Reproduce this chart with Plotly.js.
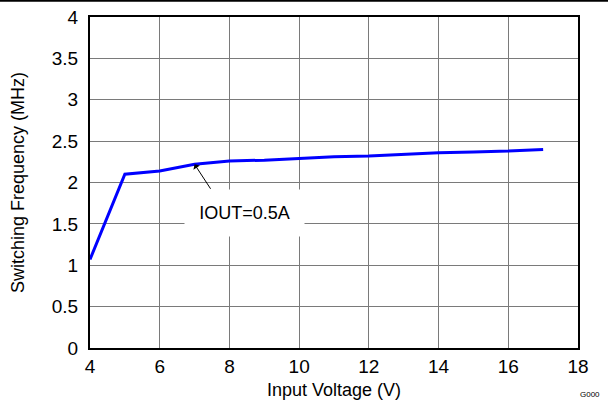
<!DOCTYPE html>
<html><head><meta charset="utf-8">
<script src="https://cdn.plot.ly/plotly-3.0.1.min.js"></script>
<style>body{margin:0;background:#fff}#c{width:608px;height:402px}</style>
</head><body><div id="c"></div>
<script>
const vin = [4, 5, 6, 7, 8, 9, 10, 11, 12, 13, 14, 15, 16, 17];
const fsw = [1.07, 2.10, 2.14, 2.22, 2.26, 2.27, 2.29, 2.31, 2.32, 2.34, 2.36, 2.37, 2.38, 2.40];
const xTicks = [4, 6, 8, 10, 12, 14, 16, 18];
const yTicks = [0, 0.5, 1, 1.5, 2, 2.5, 3, 3.5, 4];
const yTickText = ['0', '0.5', '1', '1.5', '2', '2.5', '3', '3.5', '4'];
const labelText = 'IOUT=0.5A';
const labelPos = [8.42, 1.63];
const arrowPt = [7, 2.22];

const font = {family: 'Arial, "Liberation Sans", sans-serif', color: '#000'};
const trace = {x: vin, y: fsw, mode: 'lines', line: {color: '#0000FF', width: 3}, hoverinfo: 'none'};
const layout = {
  width: 608, height: 402,
  margin: {l: 90, r: 30, t: 17, b: 54},
  paper_bgcolor: '#fff', plot_bgcolor: '#fff',
  showlegend: false,
  font: Object.assign({size: 18}, font),
  xaxis: {range: [4, 18], tickvals: xTicks, ticktext: xTicks.map(String), showgrid: true,
    gridcolor: '#7a7a7a', gridwidth: 1, zeroline: false, showline: true, linecolor: '#000', linewidth: 2,
    mirror: true, ticks: '', tickfont: {size: 19}, fixedrange: true, ticklabelstandoff: 0,
    title: {text: 'Input Voltage (V)', font: {size: 18}, standoff: 8}},
  yaxis: {range: [0, 4], tickvals: yTicks, ticktext: yTickText, showgrid: true,
    gridcolor: '#7a7a7a', gridwidth: 1, zeroline: false, showline: true, linecolor: '#000', linewidth: 2,
    mirror: true, ticks: '', tickfont: {size: 19}, fixedrange: true, ticklabelstandoff: 6,
    title: {text: 'Switching Frequency (MHz)', font: {size: 18}, standoff: 22}},
  annotations: [
    {x: labelPos[0], y: labelPos[1], xref: 'x', yref: 'y', text: labelText, showarrow: false,
     bgcolor: '#fff', width: 117, height: 44, font: {size: 18, color: '#000'}},
    {x: arrowPt[0], y: arrowPt[1], xref: 'x', yref: 'y', text: '', showarrow: true,
     ax: 17, ay: 26, arrowhead: 1, arrowsize: 1.3, arrowwidth: 1, arrowcolor: '#000'},
    {x: 1.0, y: -0.135, xref: 'paper', yref: 'paper', xanchor: 'left', yanchor: 'middle',
     text: 'G000', showarrow: false, font: {size: 8, color: '#000'}, xshift: 0, yshift: -2}
  ],
  shapes: [
    {type: 'line', xref: 'paper', yref: 'paper', x0: -0.2, x1: 1.1, y0: 1.049, y1: 1.049,
     line: {color: '#000', width: 2}}
  ]
};
Plotly.newPlot('c', [trace], layout, {displayModeBar: false, staticPlot: true});
</script></body></html>
